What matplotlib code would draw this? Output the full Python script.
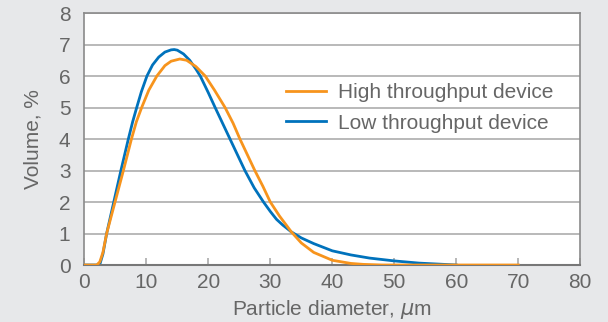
import matplotlib.pyplot as plt
import numpy as np

plt.rcParams['font.family'] = ['Liberation Sans', 'DejaVu Sans']

# diameter (um) and volume (%)
low_d = [0, 1, 2, 2.5, 3, 3.6, 4.75, 5.9, 7.1, 7.8, 8.45, 9.2, 10.1, 11, 12, 13, 14, 14.5, 15,
         16, 17, 18, 18.7, 20, 21.1, 22.3, 23.5, 24.7, 25.9, 27.4, 28.9, 30, 31, 32, 33.4, 35,
         37, 40, 43, 46, 50, 54, 58, 60]
low_v = [0, 0, 0, 0.02, 0.35, 1.0, 2.0, 3.0, 4.0, 4.55, 5.0, 5.5, 6.0, 6.35, 6.6, 6.76, 6.83,
         6.84, 6.82, 6.7, 6.5, 6.22, 6.0, 5.47, 5.0, 4.5, 4.0, 3.5, 3.0, 2.45, 2.0, 1.7, 1.45,
         1.27, 1.05, 0.86, 0.68, 0.45, 0.32, 0.22, 0.13, 0.06, 0.02, 0.0]

high_d = [0, 1, 2, 2.5, 3, 3.6, 4.95, 6.3, 7.6, 8.4, 9.25, 10.4, 11.7, 13, 14, 15.4, 16.5, 18,
          19.5, 21, 22.7, 24, 25.1, 26.3, 27.5, 28.8, 30, 31.5, 33.4, 35, 37, 40, 43, 45, 48,
          52, 60, 70]
high_v = [0, 0, 0, 0.1, 0.4, 1.0, 2.0, 3.0, 4.0, 4.55, 5.0, 5.55, 6.0, 6.33, 6.47, 6.54, 6.5,
          6.3, 6.0, 5.55, 5.0, 4.5, 4.0, 3.5, 3.0, 2.5, 2.0, 1.55, 1.05, 0.7, 0.4, 0.15, 0.05,
          0.02, 0.0, 0, 0, 0]

bg = '#e7e8ea'
txt = '#666666'
fs = 15

fig = plt.figure(figsize=(6.08, 3.22), dpi=100, facecolor=bg)
ax = fig.add_axes([0.1387, 0.177, 0.8157, 0.7826])
ax.set_facecolor('white')

ax.plot(high_d, high_v, color='#f7941d', lw=2, label='High throughput device', zorder=3)
ax.plot(low_d, low_v, color='#0072bc', lw=2, label='Low throughput device', zorder=2)

ax.set_xlim(0, 80)
ax.set_ylim(0, 8)
ax.set_xticks(np.arange(0, 81, 10))
ax.set_yticks(np.arange(0, 9, 1))
ax.yaxis.grid(True, color='#b3b3b3', lw=1.3)
ax.set_axisbelow(True)

for s in ['top', 'right', 'left']:
    ax.spines[s].set_color('#8a8a8a')
    ax.spines[s].set_linewidth(1.2)
ax.spines['bottom'].set_color('#777777')
ax.spines['bottom'].set_linewidth(1.5)

ax.tick_params(axis='x', direction='in', length=5, width=1.2, color='#aaaaaa',
               labelsize=fs, labelcolor=txt, pad=6)
ax.tick_params(axis='y', length=0, labelsize=fs, labelcolor=txt, pad=10)

ax.set_xlabel('Particle diameter, $\\mu$m', fontsize=fs, color=txt, labelpad=4)
ax.set_ylabel('Volume, %', fontsize=fs, color=txt, labelpad=12)

ax.legend(loc='center left', bbox_to_anchor=(0.4067, 0.623), frameon=False, fontsize=fs,
          handlelength=1.9, handletextpad=0.6, labelspacing=0.55, borderaxespad=0,
          borderpad=0, labelcolor=txt)

fig.savefig('out.png', dpi=100, facecolor=bg)
